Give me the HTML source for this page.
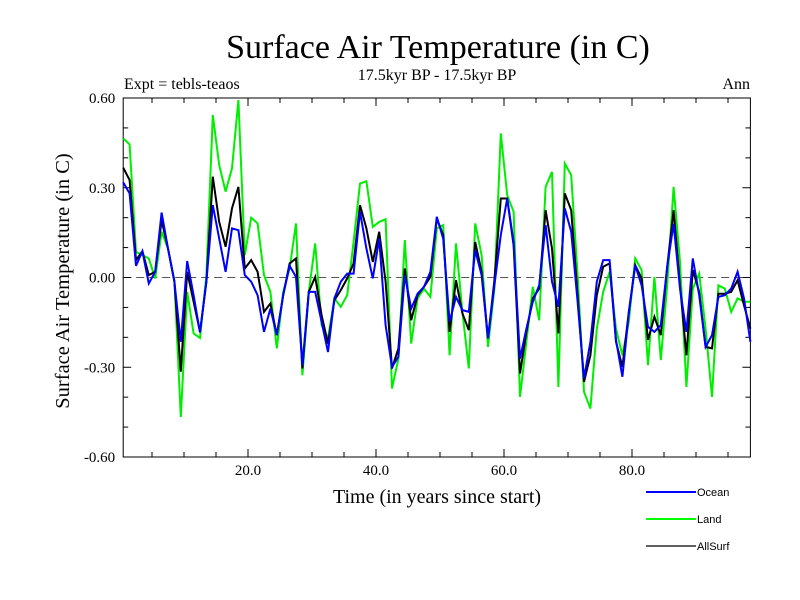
<!DOCTYPE html>
<html><head><meta charset="utf-8"><style>
body{margin:0;background:#fff}
svg{display:block}
text{font-family:"Liberation Serif",serif;fill:#000}
</style></head><body>
<svg id="chart" width="800" height="600" viewBox="0 0 800 600">
<text x="438" y="58" font-size="34" text-anchor="middle">Surface Air Temperature (in C)</text>
<text x="437" y="80" font-size="16" text-anchor="middle">17.5kyr BP - 17.5kyr BP</text>
<text x="124" y="89" font-size="16">Expt = tebls-teaos</text>
<text x="750" y="89" font-size="16" text-anchor="end">Ann</text>
<text transform="translate(69,281) rotate(-90)" font-size="20.5" text-anchor="middle">Surface Air Temperature (in C)</text>
<text x="437" y="503" font-size="20" text-anchor="middle">Time (in years since start)</text>
<g id="axes"></g>
<g id="series"></g>
<g>
<line x1="646" y1="492" x2="696" y2="492" stroke="#0000ff" stroke-width="2"/>
<text x="697" y="496" font-size="11" style="font-family:'Liberation Sans',sans-serif">Ocean</text>
<line x1="646" y1="519" x2="696" y2="519" stroke="#00ff00" stroke-width="2"/>
<text x="697" y="523" font-size="11" style="font-family:'Liberation Sans',sans-serif">Land</text>
<line x1="646" y1="546" x2="696" y2="546" stroke="#000" stroke-width="1.2"/>
<text x="697" y="550" font-size="11" style="font-family:'Liberation Sans',sans-serif">AllSurf</text>
</g>
</svg>
<script>
const land = [0.465,0.445,0.086,0.075,0.064,-0.003,0.153,0.097,-0.009,-0.466,-0.048,-0.187,-0.202,0.008,0.543,0.376,0.287,0.365,0.593,0.075,0.2,0.181,0.008,-0.048,-0.237,-0.048,
0.03,0.181,-0.327,-0.048,0.114,-0.159,-0.204,-0.07,-0.098,-0.059,0.119,0.314,0.322,0.169,0.186,0.195,-0.371,-0.271,0.125,-0.221,-0.07,-0.037,-0.065,0.164,0.175,
-0.26,0.114,-0.115,-0.304,0.181,0.075,-0.232,-0.037,0.482,0.275,0.22,-0.399,-0.215,-0.031,-0.143,0.303,0.353,-0.366,0.381,0.342,0.008,-0.382,-0.438,-0.171,-0.048,0.019,
-0.171,-0.26,-0.148,0.064,0.025,-0.293,0.002,-0.276,-0.026,0.303,0.052,-0.366,-0.037,0.013,-0.171,-0.399,-0.026,-0.037,-0.115,-0.07,-0.081,-0.081];
const allSurf = [0.367,0.326,0.058,0.088,0.008,0.019,0.192,0.097,-0.014,-0.315,0.019,-0.081,-0.182,-0.014,0.337,0.186,0.103,0.231,0.303,0.03,0.058,0.019,-0.115,-0.087,-0.193,-0.059,
0.047,0.064,-0.304,-0.048,0.002,-0.126,-0.221,-0.076,-0.042,-0.003,0.047,0.242,0.164,0.052,0.153,-0.014,-0.304,-0.237,0.03,-0.143,-0.059,-0.031,0.002,0.197,0.142,
-0.182,-0.009,-0.12,-0.176,0.119,0.019,-0.204,-0.009,0.264,0.264,0.108,-0.321,-0.182,-0.07,-0.037,0.225,0.097,-0.187,0.281,0.225,-0.059,-0.349,-0.26,-0.059,0.036,0.047,
-0.215,-0.299,-0.115,0.041,-0.003,-0.209,-0.131,-0.193,0.036,0.225,-0.026,-0.26,0.025,-0.048,-0.232,-0.237,-0.054,-0.054,-0.048,-0.009,-0.093,-0.171];
const ocean = [0.318,0.281,0.039,0.088,-0.02,0.019,0.217,0.097,-0.014,-0.215,0.055,-0.059,-0.184,-0.014,0.242,0.13,0.019,0.164,0.158,0.008,-0.014,-0.059,-0.182,-0.104,-0.193,-0.059,
0.039,0.002,-0.293,-0.048,-0.048,-0.148,-0.249,-0.07,-0.014,0.013,0.013,0.22,0.097,-0.003,0.13,-0.159,-0.299,-0.265,0.008,-0.104,-0.054,-0.031,0.019,0.203,0.13,
-0.148,-0.065,-0.109,-0.115,0.091,0.008,-0.204,-0.026,0.142,0.264,0.119,-0.271,-0.171,-0.081,-0.026,0.175,-0.014,-0.098,0.231,0.153,-0.081,-0.338,-0.215,-0.014,0.058,0.058,
-0.209,-0.332,-0.12,0.041,-0.026,-0.165,-0.182,-0.159,0.036,0.18,-0.037,-0.182,0.064,-0.059,-0.232,-0.193,-0.065,-0.059,-0.037,0.019,-0.07,-0.215];
const yTickValues = [-0.6,-0.3,0,0.3,0.6];
const yTickLabels = ["-0.60","-0.30","0.00","0.30","0.60"];
const xTickValues = [20,40,60,80];
const xTickLabels = ["20.0","40.0","60.0","80.0"];

const NS="http://www.w3.org/2000/svg";
const L=123.2,R=750.4,T=98,B=457;
const X0=0.5,X1=98.5,Y0=-0.6,Y1=0.6;
function xs(t){return L+(t-X0)/(X1-X0)*(R-L);}
function ys(v){return B-(v-Y0)/(Y1-Y0)*(B-T);}
function mk(tag,attrs,parent){const e=document.createElementNS(NS,tag);for(const k in attrs)e.setAttribute(k,attrs[k]);parent.appendChild(e);return e;}
const ax=document.getElementById('axes');
const frame=mk('rect',{x:L,y:T,width:R-L,height:B-T,fill:'none',stroke:'#000','stroke-width':1},ax);


const zl=mk('line',{x1:L,x2:R,y1:ys(0),y2:ys(0),stroke:'#555','stroke-width':1,'stroke-dasharray':'8,5'},ax);


for(let k=-6;k<=6;k++){const v=k/10;const y=ys(v);const len=(k%3===0)?8:5;
 const a=mk('line',{x1:L,x2:L+len,y1:y,y2:y,stroke:'#000'},ax);
 
 
 const b=mk('line',{x1:R-len,x2:R,y1:y,y2:y,stroke:'#000'},ax);
 
 }
yTickValues.forEach((v,i)=>{const t=mk('text',{x:L-8,y:ys(v)+5,'font-size':15,'text-anchor':'end'},ax);t.textContent=yTickLabels[i];
 
 });
for(let yr=5;yr<=95;yr+=5){const x=xs(yr);const len=(yr%20===0)?8:5;
 const a=mk('line',{x1:x,x2:x,y1:B,y2:B-len,stroke:'#000'},ax);
 
 
 const b=mk('line',{x1:x,x2:x,y1:T,y2:T+len,stroke:'#000'},ax);
 
 }
xTickValues.forEach((v,i)=>{const t=mk('text',{x:xs(v),y:B+18,'font-size':15,'text-anchor':'middle'},ax);t.textContent=xTickLabels[i];
 
 });
const sg=document.getElementById('series');
function draw(arr,color,w,name){const pts=arr.map((v,i)=>xs(i+0.5).toFixed(1)+','+ys(v).toFixed(1)).join(' ');
 const p=mk('polyline',{points:pts,fill:'none',stroke:color,'stroke-width':w,'stroke-linejoin':'miter'},sg);
 
 }
draw(land,'#00ee00',2,'land-line');
draw(allSurf,'#000000',2,'allsurf-line');
draw(ocean,'#0000ff',2,'ocean-line');
</script>
</body></html>
